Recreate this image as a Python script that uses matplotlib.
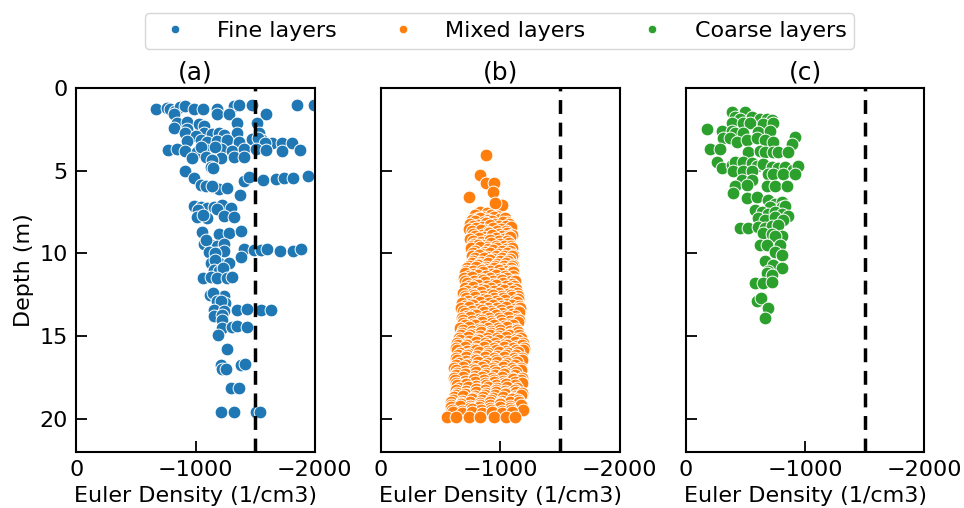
import matplotlib.pyplot as plt
from matplotlib.lines import Line2D

# Euler density vs depth, fine layers
fine_depth = [
    1.25, 1.2, 1.3, 1.4, 1.15, 1.1, 1.25, 1.3, 1.3, 1.1, 1.05, 1.05, 1.05, 1.05,
    1.55, 1.6, 1.55, 1.55,
    2.15, 2.05, 2.2, 2.3, 2.15, 2.15, 2.45, 2.5,
    2.75, 2.75, 2.8, 2.7, 2.75, 2.7, 2.85, 2.9,
    3.2, 3.15, 3.25, 3.2, 3.15, 3.25, 3.1, 3.15, 3.3, 3.3, 3.35, 3.0, 3.35,
    3.75, 3.7, 3.8, 3.85, 3.75, 3.7, 3.8, 3.7, 3.7, 3.75, 3.8, 3.75, 3.6, 3.55,
    4.25, 4.2, 4.25, 4.2, 4.15, 4.35,
    4.75, 4.85, 5.05,
    5.45, 5.6, 5.4, 5.55, 5.5, 5.45, 5.45, 5.35,
    5.85, 5.95, 6.0, 6.1, 6.05, 5.9, 6.45,
    7.15, 7.2, 7.25, 7.2, 7.1, 7.25, 7.35, 7.3,
    7.8, 7.85, 7.75, 7.8, 7.7,
    8.7, 8.8, 8.75, 8.65,
    9.4, 9.5, 9.55, 9.45, 9.2,
    9.9, 9.95, 9.85, 9.75, 9.8, 9.8, 9.75, 9.85, 9.85, 9.75, 10.0, 10.2,
    10.6, 10.55, 10.6, 10.4,
    11.0, 11.05, 10.9,
    11.5, 11.45, 11.5, 11.5, 11.4,
    12.5, 12.55, 12.6, 12.4,
    12.85, 13.0, 12.9,
    13.4, 13.45, 13.4, 13.35, 13.4, 13.4,
    13.8, 13.7, 14.05,
    14.5, 14.45, 14.4, 14.45, 14.9, 15.8,
    16.75, 17.0, 17.0, 16.75, 16.7,
    18.1, 18.1,
    19.55, 19.55, 19.55, 19.55,
]
fine_density = [
    -672, -762, -790, -832, -874, -916, -985, -1065, -1182, -1322, -1364, -1476, -1849, -1989,
    -818, -1182, -1280, -1588,
    -846, -930, -1028, -1070, -1350, -1518, -818, -925,
    -916, -1070, -1140, -1196, -1350, -1532, -1240, -1000,
    -930, -1042, -1098, -1182, -1266, -1364, -1476, -1560, -1644, -1728, -1812, -1520, -1580,
    -768, -846, -916, -1014, -1098, -1210, -1308, -1406, -1504, -1588, -1728, -1876, -1160, -1050,
    -972, -1084, -1210, -1322, -1406, -1140,
    -1126, -1149, -908,
    -986, -1406, -1448, -1569, -1672, -1742, -1821, -1939,
    -1042, -1084, -1154, -1196, -1266, -1140, -1372,
    -986, -1042, -1098, -1154, -1224, -1294, -1020, -1180,
    -1014, -1098, -1238, -1322, -1060,
    -1056, -1196, -1280, -1378,
    -1070, -1126, -1182, -1238, -1085,
    -1112, -1182, -1238, -1406, -1490, -1546, -1602, -1708, -1821, -1882, -1160, -1378,
    -1126, -1196, -1280, -1160,
    -1154, -1196, -1230,
    -1065, -1126, -1176, -1266, -1308,
    -1120, -1168, -1238, -1150,
    -1182, -1244, -1210,
    -1154, -1238, -1344, -1434, -1552, -1630,
    -1154, -1224, -1224,
    -1224, -1302, -1350, -1434, -1187, -1260,
    -1216, -1224, -1252, -1378, -1412,
    -1294, -1364,
    -1216, -1322, -1504, -1540,
]

# mixed layers
mixed_depth = [
    4.05, 5.26, 5.72, 5.72, 6.57, 6.26, 7.07, 7.47, 7.57, 6.97,
    7.7, 7.78, 7.65, 7.74,
    7.85, 7.9, 7.82,
    7.95, 7.88, 8.0, 7.92, 7.86,
    8.05, 8.1, 8.02, 8.08,
    8.2, 8.28, 8.15, 8.24, 8.12, 8.22,
    8.35, 8.39, 8.31, 8.37, 8.33,
    8.5, 8.44, 8.56, 8.48, 8.52, 8.42,
    8.65, 8.61, 8.69, 8.63, 8.67,
    8.8, 8.86, 8.74, 8.82, 8.78, 8.9,
    8.95, 8.99, 8.91, 8.97, 8.93,
    9.1, 9.04, 9.16, 9.08, 9.12, 9.02,
    9.25, 9.29, 9.21, 9.27, 9.23,
    9.4, 9.46, 9.35, 9.42, 9.38,
    9.55, 9.51, 9.59, 9.53, 9.57, 9.55,
    9.7, 9.64, 9.76, 9.68, 9.74, 9.66,
    9.85, 9.89, 9.81, 9.87, 9.83,
    10.0, 10.06, 9.95, 10.04, 9.98, 10.08,
    10.15, 10.11, 10.19, 10.13, 10.17, 10.15,
    10.3, 10.26, 10.36, 10.28, 10.34,
    10.45, 10.49, 10.41, 10.47, 10.43,
    10.6, 10.66, 10.55, 10.62, 10.58, 10.68,
    10.75, 10.71, 10.79, 10.73, 10.77, 10.75,
    10.9, 10.84, 10.96, 10.88, 10.92, 10.86,
    11.05, 11.09, 11.01, 11.07, 11.03, 11.09, 11.05,
    11.2, 11.26, 11.15, 11.22, 11.18, 11.24, 11.14,
    11.35, 11.31, 11.39, 11.33, 11.37, 11.35,
    11.5, 11.44, 11.56, 11.48, 11.52, 11.46, 11.58,
    11.65, 11.69, 11.61, 11.67, 11.63, 11.69, 11.65,
    11.8, 11.86, 11.75, 11.82, 11.78, 11.84,
    11.95, 11.91, 11.99, 11.93, 11.97, 11.95,
    12.1, 12.04, 12.16, 12.08, 12.12, 12.06, 12.14,
    12.25, 12.29, 12.21, 12.27, 12.23, 12.25,
    12.4, 12.46, 12.35, 12.42, 12.38, 12.44, 12.36,
    12.55, 12.51, 12.59, 12.53, 12.57, 12.51, 12.55,
    12.7, 12.64, 12.76, 12.68, 12.72, 12.66, 12.74,
    12.85, 12.89, 12.81, 12.87, 12.83, 12.85,
    13.0, 13.06, 12.95, 13.02, 12.98, 13.04, 12.96,
    13.15, 13.11, 13.19, 13.13, 13.17, 13.11, 13.15,
    13.3, 13.24, 13.36, 13.28, 13.32, 13.26, 13.34, 13.3,
    13.45, 13.49, 13.41, 13.47, 13.43, 13.49, 13.45,
    13.6, 13.66, 13.55, 13.62, 13.58, 13.64, 13.56,
    13.75, 13.71, 13.79, 13.73, 13.77, 13.75,
    13.9, 13.84, 13.96, 13.88, 13.92, 13.86, 13.94,
    14.05, 14.09, 14.01, 14.07, 14.03, 14.09, 14.05,
    14.2, 14.26, 14.15, 14.22, 14.18, 14.24, 14.16,
    14.35, 14.31, 14.39, 14.33, 14.37, 14.35,
    14.5, 14.44, 14.56, 14.48, 14.52, 14.46, 14.54,
    14.65, 14.69, 14.61, 14.67, 14.63, 14.69, 14.65,
    14.8, 14.86, 14.75, 14.82, 14.78, 14.84, 14.76,
    14.95, 14.91, 14.99, 14.93, 14.97, 14.91, 14.95,
    15.1, 15.04, 15.16, 15.08, 15.12, 15.06, 15.14, 15.1,
    15.25, 15.29, 15.21, 15.27, 15.23, 15.29, 15.25,
    15.4, 15.46, 15.35, 15.42, 15.38, 15.44, 15.36, 15.4,
    15.55, 15.51, 15.59, 15.53, 15.57, 15.51, 15.59, 15.55,
    15.7, 15.64, 15.76, 15.68, 15.72, 15.66, 15.74, 15.7,
    15.85, 15.89, 15.81, 15.87, 15.83, 15.89, 15.81, 15.85,
    16.0, 16.06, 15.95, 16.02, 15.98, 16.04, 15.96,
    16.15, 16.11, 16.19, 16.13, 16.17, 16.11, 16.15,
    16.3, 16.24, 16.36, 16.28, 16.32, 16.26, 16.34, 16.3,
    16.45, 16.49, 16.41, 16.47, 16.43, 16.49, 16.41, 16.45,
    16.6, 16.66, 16.55, 16.62, 16.58, 16.64, 16.56,
    16.75, 16.71, 16.79, 16.73, 16.77, 16.71, 16.75,
    16.9, 16.84, 16.96, 16.88, 16.92, 16.86, 16.94, 16.9,
    17.05, 17.09, 17.01, 17.07, 17.03, 17.09, 17.01, 17.05,
    17.2, 17.26, 17.15, 17.22, 17.18, 17.24, 17.16,
    17.35, 17.31, 17.39, 17.33, 17.37, 17.31, 17.35,
    17.5, 17.44, 17.56, 17.48, 17.52, 17.46, 17.54, 17.5,
    17.65, 17.69, 17.61, 17.67, 17.63, 17.69, 17.61, 17.65,
    17.8, 17.86, 17.75, 17.82, 17.78, 17.84, 17.76, 17.8,
    17.95, 17.91, 17.99, 17.93, 17.97, 17.91, 17.95,
    18.1, 18.04, 18.16, 18.08, 18.12, 18.06, 18.14,
    18.25, 18.29, 18.21, 18.27, 18.23, 18.29, 18.25,
    18.4, 18.46, 18.35, 18.42, 18.38, 18.44, 18.36, 18.4,
    18.55, 18.51, 18.59, 18.53, 18.57, 18.51, 18.59, 18.55,
    18.7, 18.64, 18.76, 18.68, 18.72, 18.66, 18.74,
    18.85, 18.89, 18.81, 18.87, 18.83, 18.89, 18.81, 18.85,
    19.0, 19.06, 18.95, 19.02, 18.98, 19.04, 18.96, 19.0,
    19.15, 19.11, 19.19, 19.13, 19.17, 19.11, 19.19, 19.15,
    19.3, 19.24, 19.36, 19.28, 19.32, 19.26, 19.34, 19.45,
    19.45, 19.49, 19.41, 19.47, 19.43, 19.49, 19.45,
    19.6, 19.66, 19.55, 19.62, 19.58, 19.64, 19.56,
    19.86, 19.86, 19.86, 19.86, 19.86, 19.86, 19.86,
]
mixed_density = [
    -883, -833, -883, -944, -736, -939, -1014, -833, -889, -958,
    -790, -860, -920, -975,
    -815, -880, -945,
    -760, -830, -900, -1000, -1040,
    -790, -860, -930, -1060,
    -745, -810, -880, -950, -1020, -1070,
    -775, -845, -915, -985, -1050,
    -735, -800, -870, -935, -1005, -1090,
    -760, -835, -900, -970, -1045,
    -770, -845, -905, -990, -1060, -1100,
    -790, -860, -930, -1010, -1075,
    -750, -820, -890, -960, -1035, -1085,
    -770, -840, -915, -990, -1060,
    -780, -850, -925, -1000, -1070,
    -760, -815, -890, -960, -1030, -1090,
    -755, -830, -900, -975, -1045, -1100,
    -790, -870, -940, -1010, -1080,
    -770, -845, -915, -985, -1060, -1105,
    -760, -820, -890, -960, -1030, -1095,
    -790, -860, -935, -1010, -1080,
    -775, -840, -915, -995, -1065,
    -760, -825, -900, -970, -1045, -1105,
    -740, -810, -880, -955, -1030, -1095,
    -720, -800, -870, -945, -1020, -1090,
    -710, -775, -845, -910, -985, -1055, -1100,
    -700, -780, -855, -930, -1005, -1075, -1110,
    -735, -810, -880, -960, -1040, -1105,
    -695, -765, -840, -915, -990, -1060, -1120,
    -705, -780, -855, -935, -1015, -1090, -1125,
    -720, -795, -870, -950, -1025, -1100,
    -740, -810, -890, -965, -1045, -1115,
    -700, -775, -850, -925, -1000, -1080, -1130,
    -720, -795, -870, -950, -1030, -1105,
    -685, -760, -835, -910, -990, -1065, -1140,
    -700, -780, -855, -935, -1010, -1090, -1145,
    -710, -790, -865, -945, -1020, -1100, -1150,
    -730, -805, -885, -960, -1040, -1120,
    -680, -755, -830, -905, -985, -1060, -1140,
    -700, -775, -855, -935, -1015, -1095, -1160,
    -670, -740, -815, -895, -975, -1050, -1125, -1165,
    -690, -765, -845, -925, -1005, -1085, -1150,
    -700, -780, -860, -940, -1015, -1095, -1160,
    -720, -800, -880, -960, -1040, -1120,
    -675, -750, -825, -905, -985, -1065, -1140,
    -690, -765, -845, -925, -1005, -1085, -1155,
    -690, -770, -850, -930, -1010, -1090, -1150,
    -705, -785, -865, -950, -1030, -1110,
    -665, -740, -820, -900, -980, -1060, -1130,
    -685, -760, -840, -920, -1000, -1080, -1140,
    -680, -760, -840, -920, -1000, -1080, -1150,
    -670, -750, -830, -910, -990, -1070, -1155,
    -650, -730, -810, -890, -970, -1050, -1130, -1175,
    -660, -740, -820, -900, -985, -1065, -1150,
    -640, -715, -795, -875, -955, -1040, -1120, -1190,
    -645, -725, -805, -890, -970, -1055, -1140, -1180,
    -625, -700, -785, -865, -945, -1030, -1110, -1195,
    -640, -720, -800, -885, -965, -1050, -1130, -1190,
    -660, -740, -820, -900, -985, -1065, -1150,
    -645, -725, -805, -885, -970, -1050, -1135,
    -630, -710, -790, -870, -950, -1035, -1115, -1185,
    -635, -715, -800, -880, -965, -1045, -1130, -1180,
    -650, -730, -815, -895, -975, -1060, -1140,
    -630, -710, -795, -875, -955, -1040, -1120,
    -615, -690, -770, -850, -935, -1020, -1100, -1175,
    -625, -705, -785, -870, -950, -1035, -1115, -1170,
    -640, -720, -800, -880, -965, -1050, -1130,
    -625, -705, -790, -870, -955, -1035, -1120,
    -610, -690, -770, -850, -930, -1015, -1095, -1180,
    -620, -700, -780, -860, -945, -1025, -1110, -1170,
    -625, -705, -785, -870, -950, -1035, -1120, -1185,
    -635, -715, -795, -880, -960, -1045, -1125,
    -650, -730, -810, -895, -975, -1060, -1140,
    -630, -710, -795, -875, -960, -1040, -1125,
    -640, -720, -800, -880, -965, -1050, -1130, -1180,
    -625, -705, -790, -870, -955, -1040, -1120, -1170,
    -610, -690, -775, -855, -940, -1025, -1110,
    -600, -680, -760, -845, -925, -1010, -1095, -1150,
    -590, -670, -750, -830, -915, -1000, -1085, -1160,
    -585, -670, -750, -830, -915, -1000, -1080, -1170,
    -585, -665, -745, -825, -910, -995, -1080, -1194,
    -595, -675, -760, -840, -925, -1010, -1090,
    -600, -680, -760, -845, -930, -1015, -1100,
    -556, -625, -736, -833, -944, -1050, -1125,
]

# coarse layers
coarse_depth = [
    1.43, 1.43,
    1.75, 1.85, 1.75, 1.85, 1.9, 1.95,
    2.15, 2.15, 2.1, 2.2, 2.15,
    2.5,
    2.6, 2.6, 2.7, 2.7, 2.65, 2.6,
    3.05, 3.05, 3.25, 3.15, 3.05, 3.15, 3.25, 2.95, 3.4,
    3.7, 3.7,
    3.85, 3.8, 3.85, 3.85, 3.9, 3.9,
    4.45, 4.85,
    4.65, 4.45, 4.45, 4.55, 4.7, 4.6, 4.75, 4.85, 4.75, 4.95, 4.7,
    5.0, 5.0, 5.05, 5.2, 5.2, 5.2, 5.2,
    5.55, 5.55,
    5.9, 5.85, 5.9, 5.9, 5.9,
    6.35, 6.65, 6.6, 6.75,
    7.0, 6.9,
    7.2, 7.2, 7.15,
    7.4, 7.5, 7.6, 7.5, 7.6, 7.75,
    7.85, 7.95, 7.8, 7.95,
    8.45, 8.45, 8.4, 8.45, 8.35, 8.3,
    8.75, 8.85, 8.95, 8.95,
    9.5, 9.5, 9.5,
    9.9, 10.1,
    10.45,
    10.7, 10.9, 11.05,
    11.2, 11.3,
    11.8, 11.8, 11.75,
    12.9, 12.7,
    13.3, 13.9,
]
coarse_density = [
    -384, -496,
    -412, -454, -552, -622, -678, -720,
    -384, -482, -538, -650, -734,
    -174,
    -300, -384, -412, -482, -608, -706,
    -313, -370, -426, -510, -594, -664, -734, -916, -888,
    -202, -286,
    -524, -622, -664, -734, -776, -860,
    -258, -300,
    -384, -412, -482, -552, -594, -650, -720, -776, -832, -902, -944,
    -398, -482, -552, -692, -734, -818, -916,
    -468, -552,
    -412, -510, -678, -748, -846,
    -398, -510, -594, -692,
    -748, -804,
    -706, -804, -832,
    -580, -636, -692, -748, -804, -860,
    -608, -664, -748, -818,
    -454, -524, -608, -664, -720, -776,
    -650, -720, -804, -748,
    -622, -678, -790,
    -748, -804,
    -664,
    -734, -804, -692,
    -678, -720,
    -580, -650, -720,
    -594, -630,
    -692, -664,
]

panels = [
    ("(a)", fine_depth, fine_density, "#1f77b4", "Fine layers"),
    ("(b)", mixed_depth, mixed_density, "#ff7f0e", "Mixed layers"),
    ("(c)", coarse_depth, coarse_density, "#2ca02c", "Coarse layers"),
]
threshold = -1500

fig, axes = plt.subplots(1, 3, figsize=(9.64, 5.08), dpi=100, sharey=True)
fig.subplots_adjust(left=0.079, right=0.959, top=0.827, bottom=0.110, wspace=0.277)

for ax, (title, depth, dens, color, name) in zip(axes, panels):
    ax.scatter(dens, depth, s=85, color=color, edgecolor="white", linewidth=0.7, zorder=2)
    ax.axvline(threshold, color="black", linestyle="--", linewidth=2.5, dashes=(4, 2.5), zorder=3)
    ax.set_xlim(0, -2000)
    ax.set_ylim(22, 0)
    ax.set_xticks([0, -1000, -2000])
    ax.set_yticks([0, 5, 10, 15, 20])
    ax.tick_params(direction="in", length=8, width=1.3, labelsize=16, pad=6)
    for sp in ax.spines.values():
        sp.set_linewidth(1.5)
    ax.set_title(title, fontsize=18, pad=6)
    ax.set_xlabel("Euler Density (1/cm3)", fontsize=16, labelpad=4)

axes[0].set_ylabel("Depth (m)", fontsize=16)

handles = [Line2D([], [], linestyle="none", marker="o", markersize=6,
                  markerfacecolor=c, markeredgecolor="white", markeredgewidth=0.5)
           for _, _, _, c, _ in panels]
labels = [p[4] for p in panels]
fig.legend(handles, labels, loc="center", bbox_to_anchor=(0.518, 0.939), ncol=3,
           fontsize=16, columnspacing=2.0, handletextpad=0.9, borderpad=0.35)

fig.savefig("out.png", dpi=100)
